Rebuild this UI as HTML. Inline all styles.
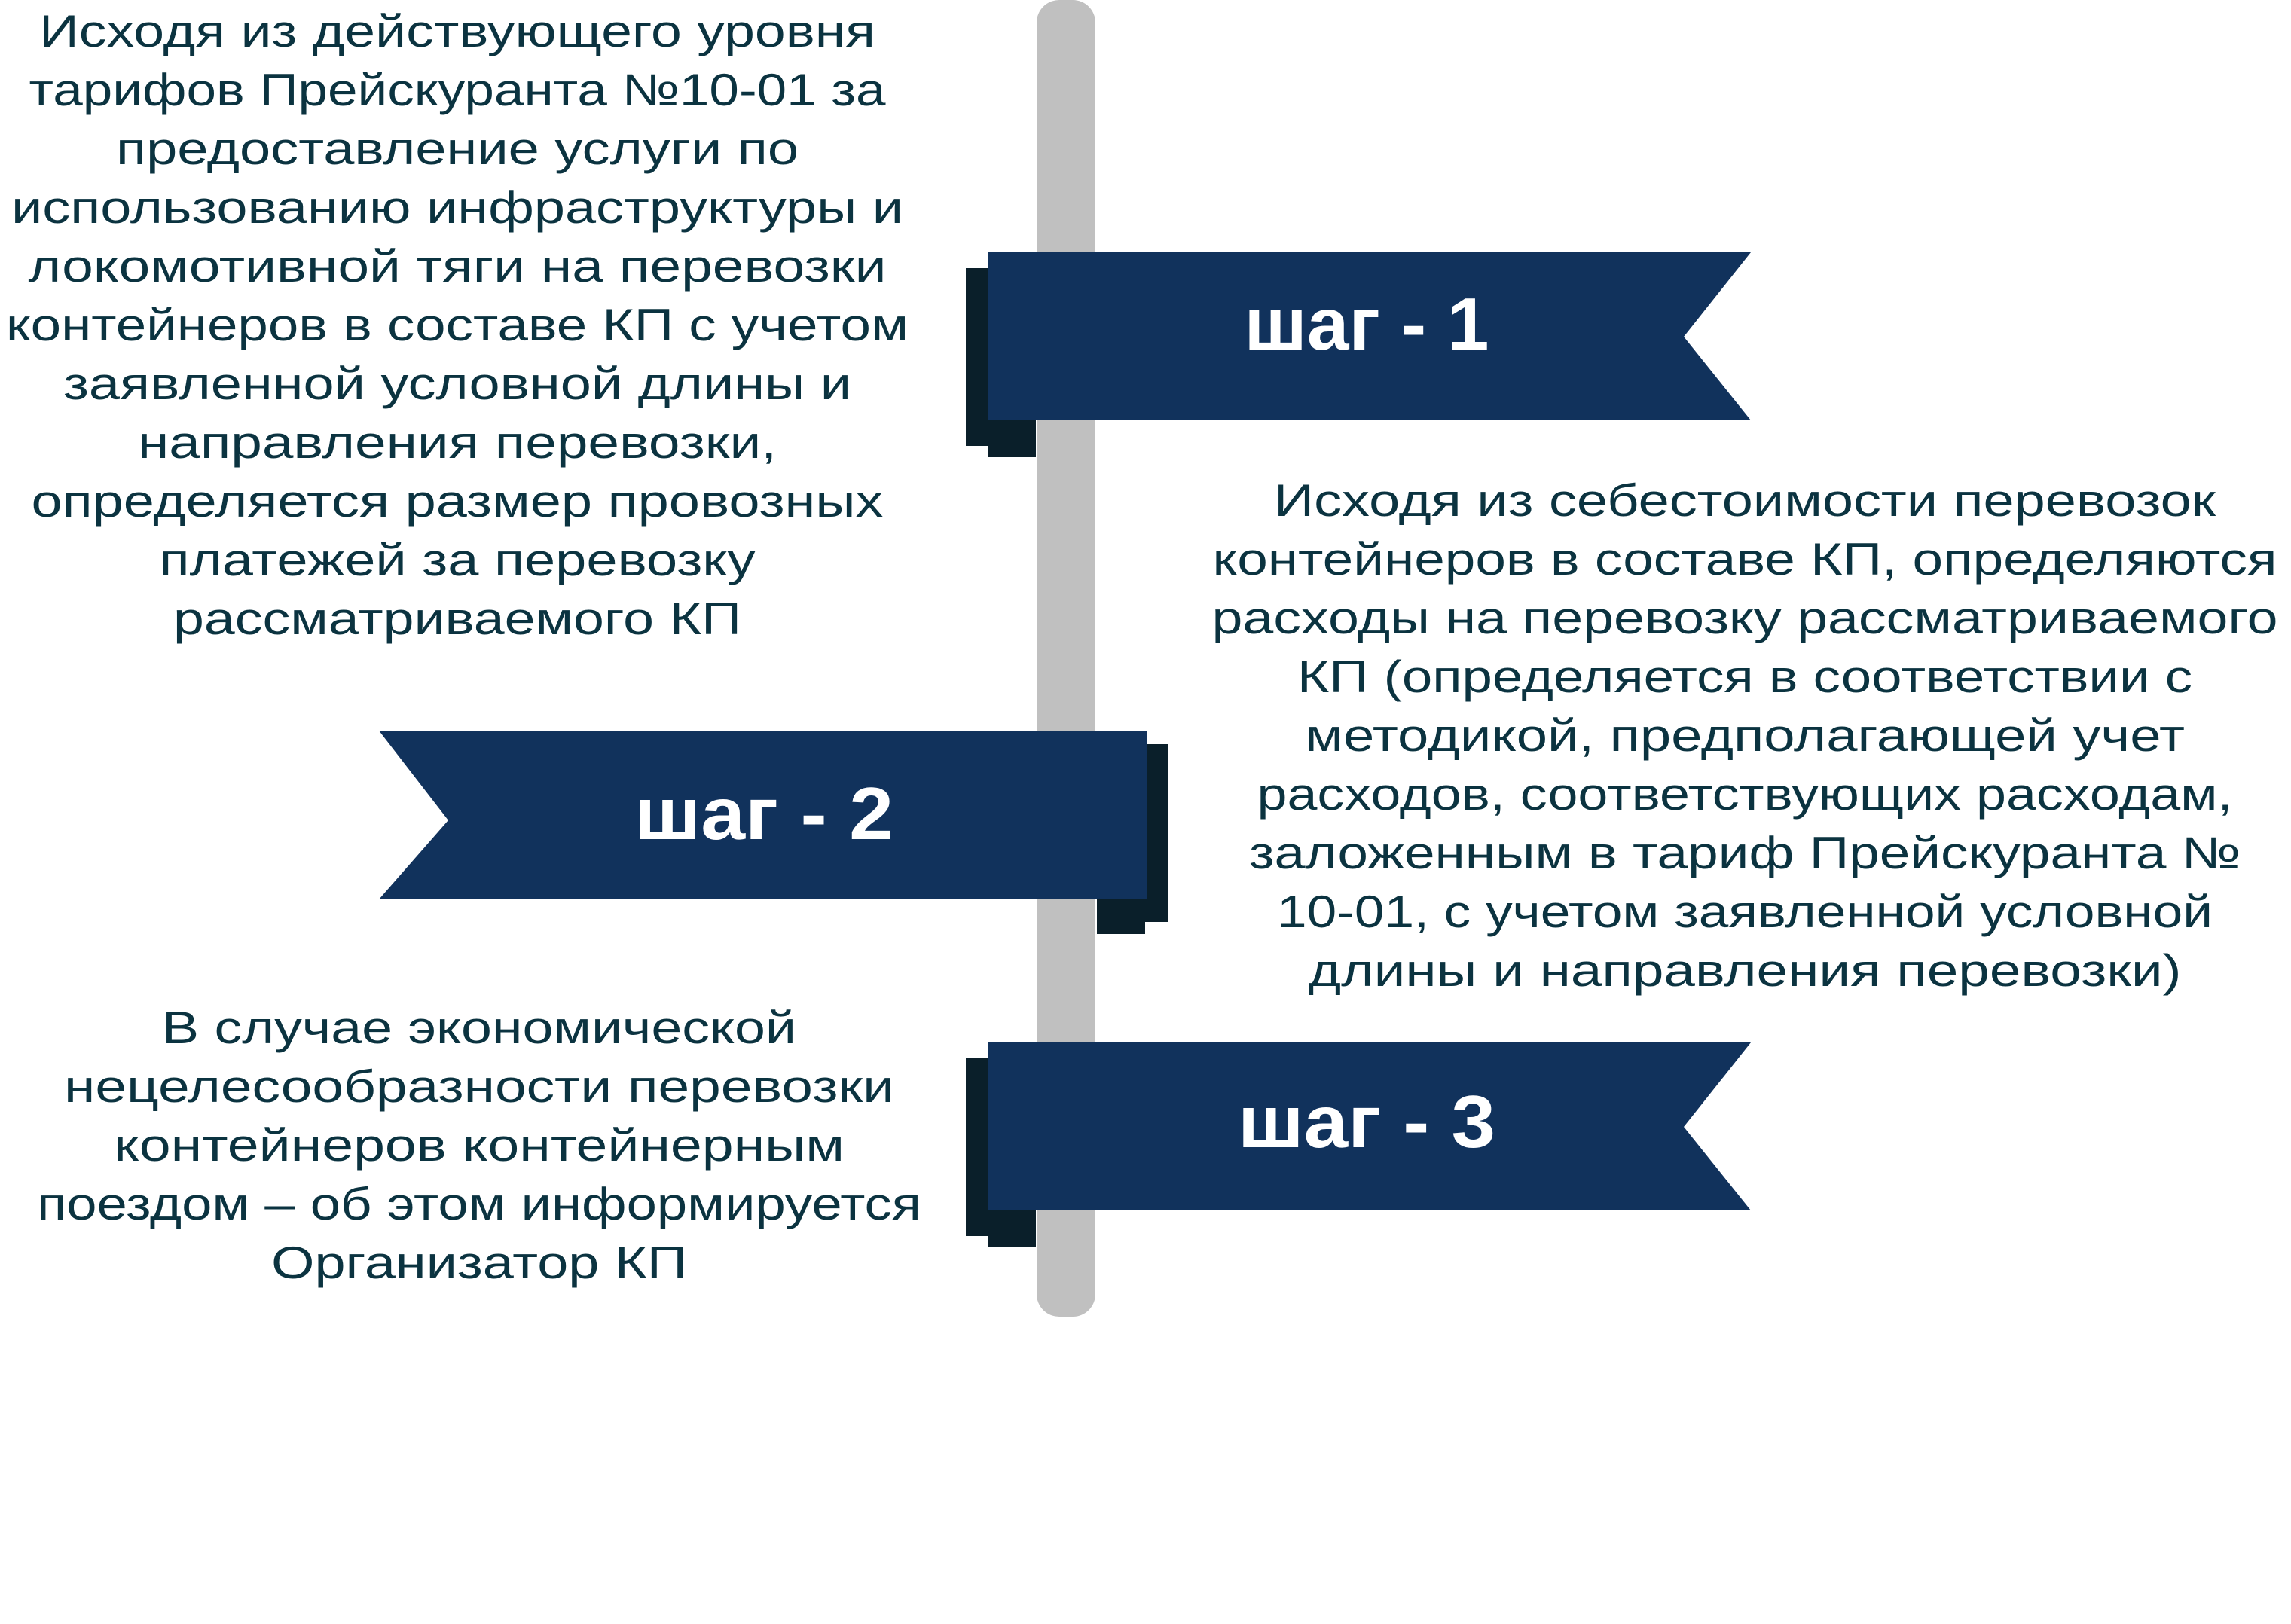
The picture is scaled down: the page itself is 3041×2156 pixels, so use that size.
<!DOCTYPE html>
<html><head><meta charset="utf-8"><style>
html,body{margin:0;padding:0;background:#fff}
svg{display:block}
.t{font-family:"Liberation Sans","Noto Sans CJK SC",sans-serif;font-size:60px;fill:#0b3340}
.s{font-family:"Liberation Sans","Noto Sans CJK SC",sans-serif;font-size:98px;font-weight:bold;fill:#fff}
</style></head><body>
<svg width="3041" height="2156" viewBox="0 0 3041 2156" xmlns="http://www.w3.org/2000/svg">
<rect x="1376" y="0" width="78" height="1748" rx="30" fill="#c0c0c0"/>
<!-- flag 1 -->
<rect x="1282" y="356" width="93" height="236" fill="#0a1f2a"/>
<rect x="1312" y="356" width="63" height="251" fill="#0a1f2a"/>
<path d="M1312 335H2324L2235 447L2324 558H1312Z" fill="#11325c"/>
<text class="s" x="1814" y="464" text-anchor="middle" textLength="325" lengthAdjust="spacingAndGlyphs">шаг - 1</text>
<!-- flag 2 -->
<rect x="1456" y="988" width="94" height="236" fill="#0a1f2a"/>
<rect x="1456" y="988" width="64" height="252" fill="#0a1f2a"/>
<path d="M503 970H1522V1194H503L595 1089Z" fill="#11325c"/>
<text class="s" x="1014" y="1114" text-anchor="middle" textLength="344" lengthAdjust="spacingAndGlyphs">шаг - 2</text>
<!-- flag 3 -->
<rect x="1282" y="1404" width="93" height="237" fill="#0a1f2a"/>
<rect x="1312" y="1404" width="63" height="252" fill="#0a1f2a"/>
<path d="M1312 1384H2324L2235 1496L2324 1607H1312Z" fill="#11325c"/>
<text class="s" x="1814" y="1523" text-anchor="middle" textLength="342" lengthAdjust="spacingAndGlyphs">шаг - 3</text>

<g class="t" text-anchor="middle">
<text x="607" y="62" textLength="1110" lengthAdjust="spacingAndGlyphs">Исходя из действующего уровня</text>
<text x="607" y="140" textLength="1137" lengthAdjust="spacingAndGlyphs">тарифов Прейскуранта №10-01 за</text>
<text x="607" y="218" textLength="906" lengthAdjust="spacingAndGlyphs">предоставление услуги по</text>
<text x="607" y="296" textLength="1184" lengthAdjust="spacingAndGlyphs">использованию инфраструктуры и</text>
<text x="607" y="374" textLength="1139" lengthAdjust="spacingAndGlyphs">локомотивной тяги на перевозки</text>
<text x="607" y="452" textLength="1198" lengthAdjust="spacingAndGlyphs">контейнеров в составе КП с учетом</text>
<text x="607" y="530" textLength="1046" lengthAdjust="spacingAndGlyphs">заявленной условной длины и</text>
<text x="607" y="608" textLength="848" lengthAdjust="spacingAndGlyphs">направления перевозки,</text>
<text x="607" y="686" textLength="1131" lengthAdjust="spacingAndGlyphs">определяется размер провозных</text>
<text x="607" y="764" textLength="791" lengthAdjust="spacingAndGlyphs">платежей за перевозку</text>
<text x="607" y="842" textLength="754" lengthAdjust="spacingAndGlyphs">рассматриваемого КП</text>

<text x="2316" y="685" textLength="1250" lengthAdjust="spacingAndGlyphs">Исходя из себестоимости перевозок</text>
<text x="2316" y="763" textLength="1413" lengthAdjust="spacingAndGlyphs">контейнеров в составе КП, определяются</text>
<text x="2316" y="841" textLength="1415" lengthAdjust="spacingAndGlyphs">расходы на перевозку рассматриваемого</text>
<text x="2316" y="919" textLength="1188" lengthAdjust="spacingAndGlyphs">КП (определяется в соответствии с</text>
<text x="2316" y="997" textLength="1168" lengthAdjust="spacingAndGlyphs">методикой, предполагающей учет</text>
<text x="2316" y="1075" textLength="1295" lengthAdjust="spacingAndGlyphs">расходов, соответствующих расходам,</text>
<text x="2316" y="1153" textLength="1316" lengthAdjust="spacingAndGlyphs">заложенным в тариф Прейскуранта №</text>
<text x="2316" y="1231" textLength="1242" lengthAdjust="spacingAndGlyphs">10-01, с учетом заявленной условной</text>
<text x="2316" y="1309" textLength="1159" lengthAdjust="spacingAndGlyphs">длины и направления перевозки)</text>

<text x="636" y="1385" textLength="842" lengthAdjust="spacingAndGlyphs">В случае экономической</text>
<text x="636" y="1463" textLength="1102" lengthAdjust="spacingAndGlyphs">нецелесообразности перевозки</text>
<text x="636" y="1541" textLength="970" lengthAdjust="spacingAndGlyphs">контейнеров контейнерным</text>
<text x="636" y="1619" textLength="1174" lengthAdjust="spacingAndGlyphs">поездом – об этом информируется</text>
<text x="636" y="1697" textLength="552" lengthAdjust="spacingAndGlyphs">Организатор КП</text>
</g>
</svg>
</body></html>
